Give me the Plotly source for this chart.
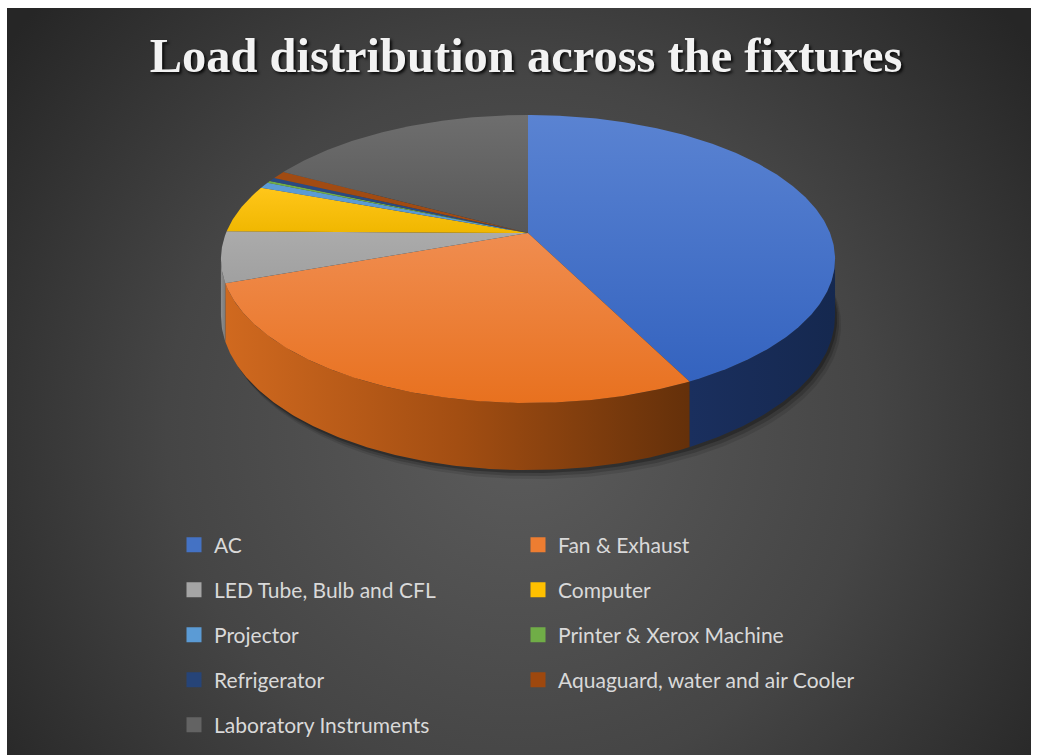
import base64
import numpy as np
import plotly.graph_objects as go

# ---- data -----------------------------------------------------------------
labels = [
    "AC",
    "Fan & Exhaust",
    "LED Tube, Bulb and CFL",
    "Computer",
    "Projector",
    "Printer & Xerox Machine",
    "Refrigerator",
    "Aquaguard, water and air Cooler",
    "Laboratory Instruments",
]
shares = [42.6, 26.9, 5.7, 5.4, 0.7, 0.25, 0.45, 0.9, 17.1]  # % of connected load

# ---- styling ----------------------------------------------------------------
swatch = ["#4472C4", "#ED7D31", "#A5A5A5", "#FFC000", "#5B9BD5",
          "#70AD47", "#264478", "#9E480E", "#636363"]
# vertical gradients for the top faces: 0 = lower on screen, 1 = higher
top_scale = [
    [[0, "#3463bf"], [1, "#5a83d2"]],
    [[0, "#e8711f"], [1, "#f08d50"]],
    [[0, "#a0a0a0"], [1, "#ababab"]],
    [[0, "#f0b700"], [1, "#ffc61a"]],
    [[0, "#5b9bd5"], [1, "#5b9bd5"]],
    [[0, "#70ad47"], [1, "#70ad47"]],
    [[0, "#2a4a82"], [1, "#2a4a82"]],
    [[0, "#a14b12"], [1, "#a14b12"]],
    [[0, "#575757"], [1, "#6e6e6e"]],
]
# horizontal gradients for the outer wall: 0 = left, 1 = right
wall_scale = [
    [[0, "#1a2f5e"], [1, "#15284f"]],
    [[0, "#d0691f"], [0.5, "#a34e12"], [1, "#64300a"]],
    [[0, "#8e8e8e"], [1, "#7a7a7a"]],
    [[0, "#c99700"], [1, "#b08400"]],
    [[0, "#4a7fae"], [1, "#4a7fae"]],
    [[0, "#5a8a39"], [1, "#5a8a39"]],
    [[0, "#1e3560"], [1, "#1e3560"]],
    [[0, "#7d390b"], [1, "#7d390b"]],
    [[0, "#4f4f4f"], [1, "#4f4f4f"]],
]

W, H = 1039, 755
CX, CY = 528, 233        # screen position of the pie centre
AX, BY = 302, 139.3      # horizontal / depth radius of the disc
K = 0.1806               # perspective strength (near side looks larger)
DEPTH = 55               # thickness of the disc


def project(theta, drop=0.0):
    """Map an angle on the rim (clockwise from the back) to screen pixels."""
    X = np.sin(theta)
    Z = -np.cos(theta)
    w = 1 - K * Z
    return CX + AX * X / w, CY + (BY * Z + drop) / w


fractions = np.array(shares) / np.sum(shares)
edges = np.concatenate([[0.0], np.cumsum(fractions)]) * 2 * np.pi

fig = go.Figure()

# soft shadow under the disc
full = np.linspace(0, 2 * np.pi, 361)
sx, sy = project(full, DEPTH)
for dx, dy, alpha in [(6, 9, 0.10), (4, 6, 0.16), (2, 3, 0.25)]:
    fig.add_trace(go.Scatter(
        x=sx + dx, y=sy + dy, mode="lines", fill="toself",
        fillcolor=f"rgba(0,0,0,{alpha})", line=dict(width=0),
        hoverinfo="skip", showlegend=False))

# outer wall, only the part that faces the viewer
vis_lo = np.arccos(-K)
vis_hi = 2 * np.pi - vis_lo
for i in range(len(shares)):
    lo = max(edges[i], vis_lo)
    hi = min(edges[i + 1], vis_hi)
    if hi <= lo:
        continue
    ts = np.linspace(lo, hi, max(int((hi - lo) * 90), 3))
    tx, ty = project(ts)
    bx, by = project(ts[::-1], DEPTH)
    fig.add_trace(go.Scatter(
        x=np.concatenate([tx, bx, tx[:1]]), y=np.concatenate([ty, by, ty[:1]]),
        mode="lines", fill="toself", line=dict(width=0),
        fillgradient=dict(type="horizontal", colorscale=wall_scale[i]),
        hoverinfo="skip", showlegend=False))

# top faces
for i in range(len(shares)):
    a0, a1 = edges[i], edges[i + 1]
    ts = np.linspace(a0, a1, max(int((a1 - a0) * 90), 3))
    tx, ty = project(ts)
    fig.add_trace(go.Scatter(
        x=np.concatenate([[CX], tx, [CX]]), y=np.concatenate([[CY], ty, [CY]]),
        mode="lines", fill="toself", line=dict(width=0),
        fillgradient=dict(type="vertical", colorscale=top_scale[i]),
        name=labels[i], text=f"{labels[i]}: {shares[i]}%", hoverinfo="text",
        showlegend=False))

# legend: two columns, one legend box per entry
col_x = [174, 518]
row_y = [545, 590, 635, 680, 725]
legend_layout = {}
for i, lab in enumerate(labels):
    key = "legend" if i == 0 else f"legend{i + 1}"
    fig.add_trace(go.Scatter(
        x=[None], y=[None], mode="markers", name=lab, legend=key,
        marker=dict(symbol="square", size=15, color=swatch[i], line=dict(width=0)),
        showlegend=True))
    legend_layout[key] = dict(
        x=col_x[i % 2] / W, xanchor="left",
        y=1 - row_y[i // 2] / H, yanchor="middle",
        bgcolor="rgba(0,0,0,0)", borderwidth=0,
        font=dict(family="Lato", size=21, color="#d9d9d9"))

# dark radial backdrop
svg = (
    '<svg xmlns="http://www.w3.org/2000/svg" width="1024" height="747" '
    'viewBox="0 0 1024 747" preserveAspectRatio="none">'
    '<defs><radialGradient id="g" gradientUnits="userSpaceOnUse" '
    'cx="512" cy="420" r="640">'
    '<stop offset="0" stop-color="#5c5c5c"/>'
    '<stop offset="0.55" stop-color="#454545"/>'
    '<stop offset="1" stop-color="#262626"/>'
    '</radialGradient></defs>'
    '<rect width="1024" height="747" fill="url(#g)"/></svg>'
)
bg_uri = "data:image/svg+xml;base64," + base64.b64encode(svg.encode()).decode()

fig.update_layout(
    width=W, height=H,
    margin=dict(l=0, r=0, t=0, b=0),
    paper_bgcolor="white",
    plot_bgcolor="rgba(0,0,0,0)",
    xaxis=dict(range=[0, W], visible=False, fixedrange=True),
    yaxis=dict(range=[H, 0], visible=False, fixedrange=True),
    images=[dict(source=bg_uri, xref="paper", yref="paper",
                 x=7 / W, y=1 - 8 / H, sizex=1024 / W, sizey=747 / H,
                 xanchor="left", yanchor="top", sizing="stretch", layer="below")],
    title=dict(
        text="Load distribution across the fixtures",
        x=526 / W, xanchor="center", xref="container",
        y=1 - 55 / H, yanchor="middle", yref="container",
        font=dict(family="Liberation Serif", size=48.5, color="#f2f2f2",
                  weight=700, shadow="2px 2px 3px rgba(0,0,0,0.85)"),
    ),
    **legend_layout,
)

fig.write_html("out.html")
